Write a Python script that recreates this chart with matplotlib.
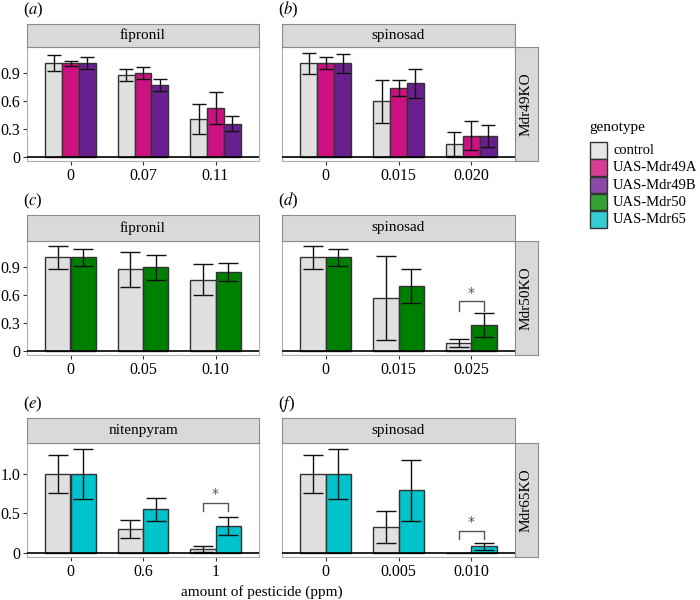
import matplotlib
matplotlib.use('Agg')
import matplotlib.pyplot as plt
from matplotlib.patches import Rectangle
import numpy as np

plt.rcParams['font.family'] = ['Liberation Serif', 'DejaVu Serif']
plt.rcParams['mathtext.fontset'] = 'stix'

# colours per genotype
colors = {'control': '#e0e0e0', 'UAS-Mdr49A': '#cc1280', 'UAS-Mdr49B': '#6a1f8e',
          'UAS-Mdr50': '#008000', 'UAS-Mdr65': '#00c3cb'}
legend_colors = ['#e6e6e6', '#d63d96', '#8a4aa8', '#33a033', '#33cdd4']
genotypes = ['control', 'UAS-Mdr49A', 'UAS-Mdr49B', 'UAS-Mdr50', 'UAS-Mdr65']

# (a) Mdr49KO fipronil
a_doses = ['0', '0.07', '0.11']
a_control = [1.0, 0.879, 0.407]
a_control_se = [0.085, 0.063, 0.158]
a_49A = [1.0, 0.90, 0.518]
a_49A_se = [0.03, 0.066, 0.172]
a_49B = [1.0, 0.768, 0.354]
a_49B_se = [0.065, 0.065, 0.08]

# (b) Mdr49KO spinosad
b_doses = ['0', '0.015', '0.020']
b_control = [1.0, 0.592, 0.138]
b_control_se = [0.11, 0.234, 0.13]
b_49A = [1.0, 0.738, 0.227]
b_49A_se = [0.065, 0.087, 0.155]
b_49B = [1.0, 0.787, 0.223]
b_49B_se = [0.105, 0.154, 0.118]

# (c) Mdr50KO fipronil
c_doses = ['0', '0.05', '0.10']
c_control = [1.0, 0.871, 0.761]
c_control_se = [0.125, 0.19, 0.164]
c_50 = [1.0, 0.893, 0.846]
c_50_se = [0.091, 0.136, 0.097]

# (d) Mdr50KO spinosad
d_doses = ['0', '0.015', '0.025']
d_control = [1.0, 0.563, 0.082]
d_control_se = [0.125, 0.452, 0.04]
d_50 = [1.0, 0.692, 0.276]
d_50_se = [0.091, 0.179, 0.131]

# (e) Mdr65KO nitenpyram
e_doses = ['0', '0.6', '1']
e_control = [1.0, 0.304, 0.05]
e_control_se = [0.24, 0.114, 0.038]
e_65 = [1.0, 0.553, 0.338]
e_65_se = [0.32, 0.146, 0.116]

# (f) Mdr65KO spinosad
f_doses = ['0', '0.005', '0.010']
f_control = [1.0, 0.325, 0.0]
f_control_se = [0.24, 0.2, 0.0]
f_65 = [1.0, 0.789, 0.08]
f_65_se = [0.32, 0.385, 0.042]

W, H = 700, 600
fig = plt.figure(figsize=(7, 6), dpi=100)


def box(x0, y0, x1, y1):
    return [x0 / W, 1 - y1 / H, (x1 - x0) / W, (y1 - y0) / H]


def panel(x0, x1, ytop, ybot, strip_top, title, doses, series, ylim, yticks,
          label, row_label=None, sig=None):
    ax = fig.add_axes(box(x0, ytop, x1, ybot))
    n = len(series)
    w = 0.7 / n
    pos = np.arange(1, len(doses) + 1)
    capsize = 5.2 if n == 3 else 7.0
    for i, (g, m, se) in enumerate(series):
        xs = pos + (i - (n - 1) / 2) * w
        ax.bar(xs, m, width=w, color=colors[g], edgecolor='#333333', linewidth=1.0, zorder=2)
        m = np.array(m)
        se = np.array(se)
        keep = se > 0
        ax.errorbar(xs[keep], m[keep], yerr=se[keep], fmt='none', ecolor='#111111',
                    elinewidth=1.0, capsize=capsize, capthick=1.0, zorder=3)
    ax.axhline(0, color='black', lw=1.2, zorder=4)
    ax.set_xlim(0.4, len(doses) + 0.6)
    ax.set_ylim(*ylim)
    ax.set_xticks(pos)
    ax.set_xticklabels(doses, fontsize=11.5)
    if yticks is None:
        ax.set_yticks([])
    else:
        ax.set_yticks(yticks[0])
        ax.set_yticklabels(yticks[1], fontsize=11.5)
    ax.tick_params(length=3, width=0.8, color='#333333', pad=2)
    for s in ax.spines.values():
        s.set_color('#b0b0b0')
        s.set_linewidth(0.8)
    if sig is not None:
        k, top, bot, star = sig
        xl = pos[k] - w / 2
        xr = pos[k] + w / 2
        ax.plot([xl, xl, xr, xr], [bot, top, top, bot], color='#555555', lw=1.0, zorder=5)
        ax.text(pos[k], star, '*', ha='center', va='center', fontsize=10,
                color='#555555', family='DejaVu Sans')
    # strip on top
    sax = fig.add_axes(box(x0, strip_top, x1, ytop))
    sax.set_xticks([])
    sax.set_yticks([])
    sax.set_facecolor('#d9d9d9')
    for s in sax.spines.values():
        s.set_color('#8c8c8c')
        s.set_linewidth(0.8)
    sax.text(0.5, 0.5, title, ha='center', va='center', fontsize=11, transform=sax.transAxes)
    if row_label is not None:
        rax = fig.add_axes(box(x1, ytop, x1 + 23, ybot))
        rax.set_xticks([])
        rax.set_yticks([])
        rax.set_facecolor('#d9d9d9')
        for s in rax.spines.values():
            s.set_color('#8c8c8c')
            s.set_linewidth(0.8)
        rax.text(0.5, 0.5, row_label, ha='center', va='center', rotation=90,
                 fontsize=11, transform=rax.transAxes)
    fig.text((x0 - 4) / W, 1 - (strip_top - 14) / H, label, fontsize=12,
             ha='left', va='center')
    return ax


lim12 = (-0.045, 1.175)
lim3 = (-0.054, 1.39)
t12 = ([0, 0.3, 0.6, 0.9], ['0', '0.3', '0.6', '0.9'])
t3 = ([0, 0.5, 1.0], ['0', '0.5', '1.0'])

L0, L1 = 27, 259
R0, R1 = 282, 515

panel(L0, L1, 47, 161, 24, 'fipronil', a_doses,
      [('control', a_control, a_control_se), ('UAS-Mdr49A', a_49A, a_49A_se),
       ('UAS-Mdr49B', a_49B, a_49B_se)], lim12, t12, r'($\mathit{a}$)')
panel(R0, R1, 47, 161, 24, 'spinosad', b_doses,
      [('control', b_control, b_control_se), ('UAS-Mdr49A', b_49A, b_49A_se),
       ('UAS-Mdr49B', b_49B, b_49B_se)], lim12, None, r'($\mathit{b}$)', 'Mdr49KO')
panel(L0, L1, 241, 355, 215, 'fipronil', c_doses,
      [('control', c_control, c_control_se), ('UAS-Mdr50', c_50, c_50_se)],
      lim12, t12, r'($\mathit{c}$)')
panel(R0, R1, 241, 355, 215, 'spinosad', d_doses,
      [('control', d_control, d_control_se), ('UAS-Mdr50', d_50, d_50_se)],
      lim12, None, r'($\mathit{d}$)', 'Mdr50KO', sig=(2, 0.534, 0.43, 0.62))
panel(L0, L1, 443, 557, 418, 'nitenpyram', e_doses,
      [('control', e_control, e_control_se), ('UAS-Mdr65', e_65, e_65_se)],
      lim3, t3, r'($\mathit{e}$)', sig=(2, 0.629, 0.532, 0.74))
panel(R0, R1, 443, 557, 418, 'spinosad', f_doses,
      [('control', f_control, f_control_se), ('UAS-Mdr65', f_65, f_65_se)],
      lim3, None, r'($\mathit{f}$)', 'Mdr65KO', sig=(2, 0.274, 0.173, 0.385))

fig.text(262 / W, 1 - 592 / H, 'amount of pesticide (ppm)', ha='center', va='center', fontsize=11)

# legend
fig.text(589 / W, 1 - 127 / H, 'genotype', ha='left', va='center', fontsize=11)
for i, (g, c) in enumerate(zip(genotypes, legend_colors)):
    y0 = 142 + i * 17.3
    fig.add_artist(Rectangle((590 / W, 1 - (y0 + 16.5) / H), 16.5 / W, 16.5 / H,
                             transform=fig.transFigure, facecolor=c,
                             edgecolor='#333333', linewidth=1.0))
    fig.text(613 / W, 1 - (y0 + 8.5) / H, g, ha='left', va='center', fontsize=10.5)

fig.savefig('out.png', dpi=100)
